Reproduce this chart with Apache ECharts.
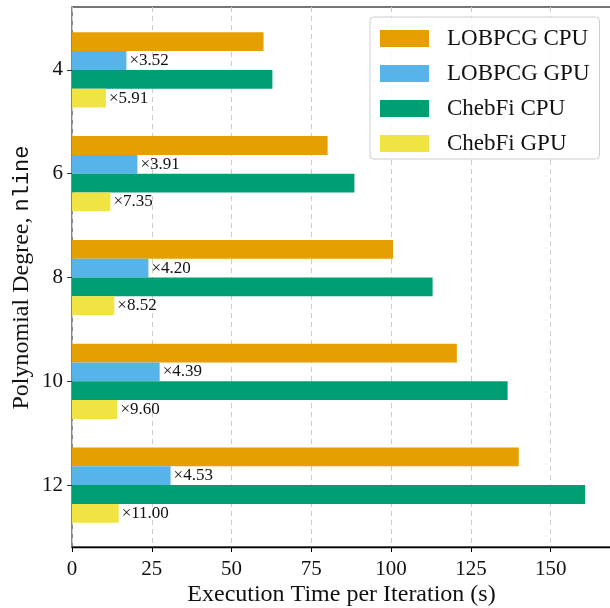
<!DOCTYPE html>
<html>
<head>
<meta charset="utf-8">
<script src="https://cdn.jsdelivr.net/npm/echarts@6/dist/echarts.min.js"></script>
<style>
  html, body { margin: 0; padding: 0; background: #ffffff; }
  #chart { width: 610px; height: 608px; }
</style>
</head>
<body>
<div id="chart"></div>
<script>
// Polynomial degrees (nline) shown on the vertical axis, top to bottom
const degrees = ['4', '6', '8', '10', '12'];

// Execution time per iteration, seconds
const lobpcgCpu = [60.0, 80.1, 100.6, 120.6, 140.0];
const lobpcgGpu = [17.05, 20.5, 23.95, 27.47, 30.9];
const chebfiCpu = [62.8, 88.5, 113.0, 136.5, 160.8];
const chebfiGpu = [10.63, 12.04, 13.26, 14.22, 14.62];

// GPU speedup over CPU, printed next to the GPU bars
const lobpcgSpeedup = ['3.52', '3.91', '4.20', '4.39', '4.53'];
const chebfiSpeedup = ['5.91', '7.35', '8.52', '9.60', '11.00'];

// Time axis ticks
const xTicks = [0, 25, 50, 75, 100, 125, 150];
const xMax = 168.9;

const seriesNames = ['LOBPCG CPU', 'LOBPCG GPU', 'ChebFi CPU', 'ChebFi GPU'];
const seriesColors = ['#E69F00', '#56B4E9', '#009E73', '#F0E442'];

const SERIF = "'Liberation Serif', 'DejaVu Serif', serif";
const MONO = "'Liberation Mono', 'DejaVu Sans Mono', monospace";

const chart = echarts.init(document.getElementById('chart'), null, { renderer: 'canvas' });

function speedupLabel(list) {
  return {
    show: true,
    position: 'right',
    distance: 3,
    color: '#111111',
    fontFamily: SERIF,
    fontSize: 17,
    formatter: (p) => '\u00d7' + list[p.dataIndex]
  };
}

function barSeries(name, values, color, label) {
  const s = {
    name: name,
    type: 'bar',
    xAxisIndex: 1,
    yAxisIndex: 1,
    data: values,
    barWidth: 18.8,
    barGap: '0%',
    itemStyle: { color: color },
    emphasis: { disabled: true },
    animation: false
  };
  if (label) s.label = label;
  return s;
}

const option = {
  backgroundColor: '#ffffff',
  animation: false,
  textStyle: { fontFamily: SERIF },
  grid: [
    // frame grid: spines, time axis, dashed grid lines
    { left: 72, right: -1, top: 7, bottom: 61, outerBoundsMode: 'none', containLabel: false,
      show: true, borderColor: '#4a4a4a', borderWidth: 1.3, backgroundColor: 'transparent' },
    // bar grid: one band per degree
    { left: 72, right: -1, top: 18, height: 519, outerBoundsMode: 'none', containLabel: false }
  ],
  xAxis: [
    {
      gridIndex: 0,
      type: 'value',
      min: 0,
      max: xMax,
      interval: 25,
      position: 'bottom',
      name: 'Execution Time per Iteration (s)',
      nameLocation: 'middle',
      nameGap: 36,
      nameMoveOverlap: false,
      nameTextStyle: { fontFamily: SERIF, fontSize: 24, color: '#111111' },
      axisLine: { show: true, lineStyle: { color: '#000000', width: 1.3 } },
      axisTick: { show: true, length: 5, lineStyle: { color: '#000000' }, customValues: xTicks },
      axisLabel: { show: true, margin: 12, verticalAlign: 'top', fontFamily: SERIF, fontSize: 21, color: '#111111', customValues: xTicks },
      splitLine: { show: true, lineStyle: { color: '#cccccc', type: [5, 4], width: 1 } }
    },
    {
      gridIndex: 1,
      type: 'value',
      min: 0,
      max: xMax,
      show: false
    }
  ],
  yAxis: [
    {
      gridIndex: 0,
      type: 'value',
      min: 0,
      max: 1,
      axisLine: { show: false },
      axisTick: { show: false },
      axisLabel: { show: false },
      splitLine: { show: false }
    },
    {
      gridIndex: 1,
      type: 'category',
      data: degrees,
      inverse: true,
      name: '{a|Polynomial Degree, }{m|nline}',
      nameLocation: 'middle',
      nameGap: 38,
      nameMoveOverlap: false,
      nameTextStyle: {
        color: '#111111',
        rich: {
          a: { fontFamily: SERIF, fontSize: 24, color: '#111111' },
          m: { fontFamily: MONO, fontSize: 22, color: '#111111' }
        }
      },
      axisLine: { show: false },
      axisTick: { show: true, alignWithLabel: true, length: 5, lineStyle: { color: '#333333' } },
      axisLabel: { margin: 9, fontFamily: SERIF, fontSize: 21, color: '#111111' },
      splitLine: { show: false }
    }
  ],
  legend: {
    orient: 'vertical',
    left: 370,
    top: 17,
    itemWidth: 49,
    itemHeight: 17,
    itemGap: 12,
    icon: 'rect',
    padding: [10, 10, 4, 10],
    backgroundColor: 'rgba(255,255,255,0.85)',
    borderColor: '#cccccc',
    borderWidth: 1,
    borderRadius: 4,
    selectedMode: false,
    data: seriesNames,
    textStyle: { fontFamily: SERIF, fontSize: 23, color: '#111111', padding: [0, 0, 0, 13] }
  },
  series: [
    barSeries(seriesNames[0], lobpcgCpu, seriesColors[0]),
    barSeries(seriesNames[1], lobpcgGpu, seriesColors[1], speedupLabel(lobpcgSpeedup)),
    barSeries(seriesNames[2], chebfiCpu, seriesColors[2]),
    barSeries(seriesNames[3], chebfiGpu, seriesColors[3], speedupLabel(chebfiSpeedup))
  ]
};

chart.setOption(option);
</script>
</body>
</html>
